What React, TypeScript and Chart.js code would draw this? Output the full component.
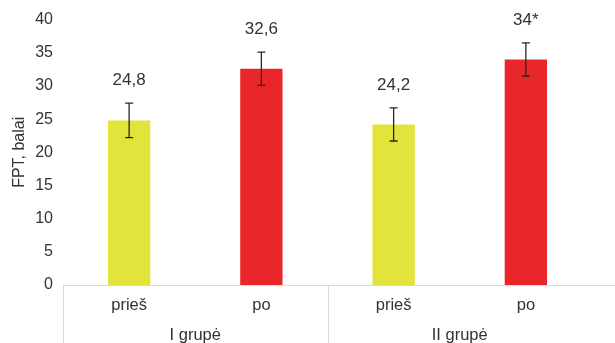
import React, { useEffect, useRef } from "react";
import { Chart, registerables } from "chart.js";

Chart.register(...registerables);

// FPT scores before ("prieš") and after ("po") for two groups
const categories = ["prieš", "po", "prieš", "po"];
const groups = ["I grupė", "II grupė"];
const groupOf = [0, 0, 1, 1];
const values = [24.8, 32.6, 24.2, 34];
const errors = [2.6, 2.5, 2.5, 2.5];
const valueLabels = ["24,8", "32,6", "24,2", "34*"];
const barColors = ["#e2e33b", "#e9272b", "#e2e33b", "#e9272b"];
const yMin = 0;
const yMax = 40;
const yStep = 5;
const yTitle = "FPT, balai";

const FONT = "'Liberation Sans', Arial, Helvetica, sans-serif";
const TEXT = "#333333";
const AXIS_LINE = "#d9d9d9";

// Error whiskers and value labels above each bar
const errorBarsPlugin = {
  id: "errorBars",
  afterDatasetsDraw(chart: any) {
    const { ctx } = chart;
    const x = chart.scales.x;
    const y = chart.scales.y;
    ctx.save();
    values.forEach((v, i) => {
      const cx = x.getPixelForValue(i);
      const top = y.getPixelForValue(v + errors[i]);
      const bot = y.getPixelForValue(v - errors[i]);
      ctx.strokeStyle = "#262626";
      ctx.lineWidth = 1.3;
      ctx.beginPath();
      ctx.moveTo(cx, top);
      ctx.lineTo(cx, bot);
      ctx.moveTo(cx - 4, top);
      ctx.lineTo(cx + 4, top);
      ctx.moveTo(cx - 4, bot);
      ctx.lineTo(cx + 4, bot);
      ctx.stroke();

      ctx.fillStyle = TEXT;
      ctx.font = `17px ${FONT}`;
      ctx.textAlign = "center";
      ctx.textBaseline = "middle";
      ctx.fillText(valueLabels[i], cx, top - 23);
    });
    ctx.restore();
  },
};

// Two-level category axis: bar labels, group labels and separators
const groupAxisPlugin = {
  id: "groupAxis",
  afterDraw(chart: any) {
    const { ctx, chartArea } = chart;
    const x = chart.scales.x;
    const W = chart.width;
    const H = chart.height;
    const base = Math.round(chartArea.bottom) + 0.5;
    ctx.save();
    ctx.strokeStyle = AXIS_LINE;
    ctx.lineWidth = 1;
    ctx.beginPath();
    ctx.moveTo(chartArea.left, base);
    ctx.lineTo(W, base);
    // left edge and group separators
    const seps: number[] = [Math.round(chartArea.left) + 0.5];
    for (let i = 1; i < categories.length; i++) {
      if (groupOf[i] !== groupOf[i - 1]) {
        const p = (x.getPixelForValue(i - 1) + x.getPixelForValue(i)) / 2;
        seps.push(Math.round(p) + 0.5);
      }
    }
    seps.forEach((sx) => {
      ctx.moveTo(sx, base);
      ctx.lineTo(sx, H);
    });
    ctx.stroke();

    ctx.fillStyle = TEXT;
    ctx.font = `16.5px ${FONT}`;
    ctx.textAlign = "center";
    ctx.textBaseline = "middle";
    categories.forEach((c, i) => {
      ctx.fillText(c, x.getPixelForValue(i), base + 20);
    });
    groups.forEach((g, gi) => {
      const idx = categories.map((_, i) => i).filter((i) => groupOf[i] === gi);
      const first = x.getPixelForValue(idx[0]);
      const last = x.getPixelForValue(idx[idx.length - 1]);
      ctx.fillText(g, (first + last) / 2, base + 50);
    });
    ctx.restore();
  },
};

export default function App() {
  const ref = useRef<HTMLCanvasElement>(null);

  useEffect(() => {
    document.body.style.margin = "0";
    document.body.style.overflow = "hidden";
    const canvas = ref.current;
    if (!canvas) return;
    const chart = new Chart(canvas, {
      type: "bar",
      data: {
        labels: categories,
        datasets: [
          {
            data: values,
            backgroundColor: barColors,
            categoryPercentage: 1,
            barPercentage: 0.32,
          },
        ],
      },
      options: {
        responsive: false,
        animation: false,
        devicePixelRatio: 1,
        layout: { padding: { top: 19, right: 23, bottom: 58, left: 0 } },
        plugins: {
          legend: { display: false },
          tooltip: { enabled: false },
        },
        scales: {
          x: { display: false },
          y: {
            min: yMin,
            max: yMax,
            grid: { display: false, drawTicks: false },
            border: { display: false },
            ticks: {
              stepSize: yStep,
              padding: 10,
              color: TEXT,
              font: { family: FONT, size: 16 },
            },
            title: {
              display: true,
              text: yTitle,
              color: TEXT,
              font: { family: FONT, size: 16 },
              padding: { top: 10, bottom: 0 },
            },
            afterFit(scale: any) {
              scale.width = 63;
            },
          },
        },
      },
      plugins: [errorBarsPlugin, groupAxisPlugin],
    });
    return () => chart.destroy();
  }, []);

  return (
    <div style={{ width: 615, height: 343, background: "#fff" }}>
      <canvas ref={ref} width={615} height={343} style={{ display: "block" }} />
    </div>
  );
}
